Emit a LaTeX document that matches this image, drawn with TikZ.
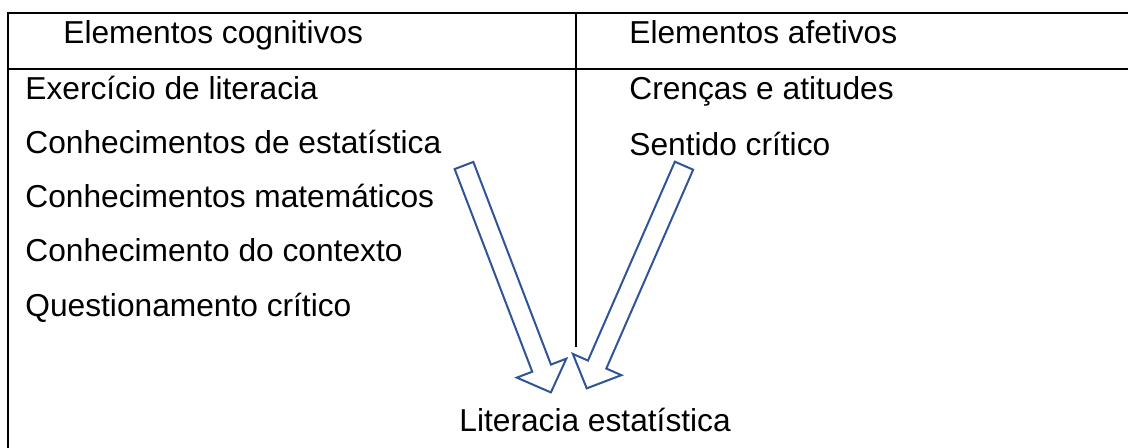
\documentclass[tikz,border=0pt]{standalone}
\usepackage{fontspec}
\setmainfont{Liberation Sans}
\usepackage{tikz}
\usetikzlibrary{positioning}
\definecolor{arrowblue}{RGB}{47,85,151}
\tikzset{
    cell/.style={anchor=base west, inner sep=0pt, font=\fontsize{15.85}{19}\selectfont},
    rule/.style={line width=1pt},
    blockarrow/.style={draw=arrowblue, line width=1pt, line join=miter}
}

\begin{document}
\begin{tikzpicture}[x=0.5pt, y=-0.5pt]
    \useasboundingbox (0,0) rectangle (1128,448);

    % Table frame
    \draw[rule] (1128,13) -- (8,13) -- (8,448);
    \draw[rule] (8,69) -- (1128,69);
    \draw[rule] (576,13) -- (576,347);

    % Headers
    \node[cell] (cog) at (63,44) {Elementos cognitivos};
    \node[cell] (afe) at (629,44) {Elementos afetivos};

    % Cognitive elements
    \foreach \y/\name/\label in {100/cogA/Exercício de literacia, 154/cogB/Conhecimentos de estatística,
        208/cogC/Conhecimentos matemáticos, 262/cogD/Conhecimento do contexto, 316/cogE/Questionamento crítico}
        \node[cell] (\name) at (25,\y) {\label};

    % Affective elements
    \foreach \y/\name/\label in {100/afeA/Crenças e atitudes, 156/afeB/Sentido crítico}
        \node[cell] (\name) at (629,\y) {\label};

    % Result
    \node[cell] (lit) at (459,431) {Literacia estatística};

    % Block arrows
    \foreach \x/\y/\ang in {464/165.5/-69.05, 684/165.7/246.4}
        \draw[blockarrow, shift={(\x,\y)}, rotate=\ang]
            (0,-10) -- (217,-10) -- (217,-26.5) -- (243,0) -- (217,26.5) -- (217,10) -- (0,10) -- cycle;
\end{tikzpicture}
\end{document}
